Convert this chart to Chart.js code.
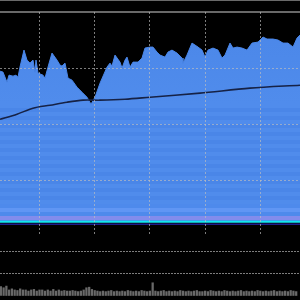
<!DOCTYPE html>
<html>
<head>
<meta charset="utf-8">
<script src="https://cdn.jsdelivr.net/npm/chart.js@4/dist/chart.umd.min.js"></script>
<style>
  html, body { margin: 0; padding: 0; background: #000; }
  canvas { display: block; }
</style>
</head>
<body>
<canvas id="price" width="300" height="237"></canvas>
<canvas id="volume" width="300" height="63"></canvas>
<script>
// price (sessions are trading days, 0 = first gridline)
const sessions = [-14.31, -13.22, -11.78, -11.05, -9.6, -8.51, -7.79, -7.07, -5.62, -4.53, -3.44, -2.36, -1.63, -1.27, -0.54,
  1.27, 1.99, 3.08, 4.53, 6.34, 7.43, 8.15, 9.24, 10.33, 11.78, 13.59, 15.4, 17.21, 18.66, 20.11, 21.92, 24.46, 25.54,
  26.27, 27.36, 29.17, 29.89, 30.98, 31.7, 32.79, 33.88, 35.69, 37.14, 38.22, 40.04, 41.12, 42.57, 43.66, 45.47, 46.56,
  48.01, 49.82, 51.63, 51.99, 53.44, 55.25, 56.34, 57.43, 58.88, 59.96, 61.05, 62.86, 64.67, 66.12, 67.21, 69.02, 70.11,
  71.56, 73.37, 75.18, 76.99, 79.17, 80.98, 82.43, 84.6, 86.41, 88.22, 90.04, 91.85, 93.3, 94.38];
const closes = [69.46, 69.29, 67.5, 68.75, 68.57, 68.75, 68.39, 70.18, 73.21, 71.43, 70.89, 71.43, 69.29, 71.43, 69.11,
  68.75, 68.21, 70.18, 72.68, 71.43, 70.54, 70.36, 70.89, 68.21, 67.86, 66.61, 65.71, 64.82, 63.57, 64.82, 67.32, 70.18, 70.89,
  70.36, 72.32, 71.07, 70.0, 71.43, 71.96, 70.18, 71.07, 71.07, 71.79, 73.57, 73.75, 73.75, 72.86, 72.32, 71.96, 72.86,
  73.21, 72.68, 71.79, 70.89, 72.32, 74.46, 74.11, 73.75, 73.21, 71.96, 73.21, 73.57, 73.21, 71.79, 72.32, 74.46, 73.57,
  73.75, 73.57, 73.21, 74.46, 74.64, 75.54, 75.18, 75.18, 75.0, 74.46, 74.46, 73.75, 75.36, 75.89];

// moving average
const maSessions = [-14.31, -8.15, -2.36, 3.8, 9.96, 15.76, 21.92, 30.98, 40.04, 58.15, 76.27, 94.38];
const maValues = [60.89, 61.79, 62.86, 63.39, 63.93, 64.29, 64.29, 64.46, 64.82, 65.54, 66.43, 66.96];

// baseline levels under the area
const baseLevel = 42.65;
const lowLevel = 42.2;

// volume, one bar per session from -14 to 93
const volFirst = -14;
const volumes = [0.85, 0.75, 0.9, 0.55, 0.65, 0.55, 0.5, 0.65, 0.55, 0.55, 0.45, 0.55, 0.6, 0.45, 0.55,
  0.55, 0.45, 0.55, 0.45, 0.6, 0.45, 0.55, 0.45, 0.5, 0.45,
  0.45, 0.5, 0.45, 0.4, 0.45, 0.55, 0.75, 0.8, 0.6, 0.5, 0.45,
  0.4, 0.45, 0.4, 0.45, 0.5, 0.4, 0.45, 0.4, 0.45, 0.4, 0.5, 0.45, 0.4, 0.45, 0.4, 0.5, 0.45, 0.4, 0.45,
  1.2,
  0.45, 0.4, 0.45, 0.5, 0.4, 0.45, 0.4, 0.45, 0.4, 0.5, 0.45, 0.4, 0.45, 0.4, 0.45, 0.5, 0.4,
  0.4, 0.45, 0.4, 0.5, 0.45, 0.4, 0.45, 0.4, 0.5, 0.45, 0.4, 0.45, 0.4, 0.45, 0.5, 0.4, 0.45, 0.4, 0.45, 0.4,
  0.5, 0.45, 0.4, 0.45, 0.4, 0.45, 0.5, 0.4, 0.45, 0.4, 0.45, 0.4, 0.5, 0.45, 0.4];

const xMin = -14.31, xMax = 94.38;
const FILL = "rgb(74,134,232)";
const FILL_LIGHT = "rgb(80,140,236)";
const GRID = "rgba(190,190,190,0.65)";
const FRAME = "rgb(105,105,105)";

const pts = (xs, ys) => xs.map((x, i) => ({ x: x, y: ys[i] }));

// faint horizontal banding in the lower part of the area
function stripedFill(context) {
    const chart = context.chart;
    const area = chart.chartArea;
    if (!area) return FILL;
    const g = chart.ctx.createLinearGradient(0, area.top, 0, area.bottom);
    const h = area.bottom - area.top;
    g.addColorStop(0, FILL);
    const step = 4;
    let k = 0;
    for (let y = 92; y < h; y += step, k++) {
        let c = k % 2 ? FILL : FILL_LIGHT;
        if (y > 188) c = k % 2 ? "rgb(78,138,236)" : "rgb(96,150,244)";
        if (y > 200 && y < 206) c = "rgb(130,140,236)";
        const t0 = y / h;
        const t1 = Math.min((y + step) / h, 1) - 0.0005;
        g.addColorStop(t0, c);
        g.addColorStop(Math.max(t0, t1), c);
    }
    return g;
}

new Chart(document.getElementById("price"), {
    type: "line",
    data: {
        datasets: [
            {
                data: pts(sessions, closes),
                borderColor: FILL,
                borderWidth: 1,
                backgroundColor: stripedFill,
                fill: { value: baseLevel },
                pointRadius: 0,
                tension: 0,
                order: 3,
            },
            {
                data: pts(maSessions, maValues),
                borderColor: "rgb(22,34,70)",
                borderWidth: 1.6,
                pointRadius: 0,
                tension: 0.3,
                fill: false,
                order: 0,
            },
            {
                data: [{ x: xMin, y: baseLevel }, { x: xMax, y: baseLevel }],
                borderColor: "rgb(20,230,240)",
                borderWidth: 2,
                pointRadius: 0,
                fill: false,
                order: 1,
            },
            {
                data: [{ x: xMin, y: lowLevel }, { x: xMax, y: lowLevel }],
                borderColor: "rgb(30,30,140)",
                borderWidth: 1.5,
                pointRadius: 0,
                fill: false,
                order: 2,
            },
        ],
    },
    options: {
        responsive: false,
        animation: false,
        devicePixelRatio: 1,
        layout: { padding: { top: 12, bottom: 0.5, left: 0, right: 0 } },
        plugins: { legend: { display: false }, tooltip: { enabled: false } },
        scales: {
            x: {
                type: "linear",
                min: xMin,
                max: xMax,
                ticks: { display: false, stepSize: 20, includeBounds: false },
                grid: { color: GRID, drawTicks: false, z: 1 },
                border: { display: true, color: FRAME, width: 2, dash: [2, 2] },
            },
            xTop: {
                type: "linear",
                position: "top",
                ticks: { display: false },
                grid: { display: false, drawTicks: false },
                border: { display: true, color: FRAME, width: 2 },
            },
            y: {
                min: 40,
                max: 80,
                ticks: { display: false, stepSize: 10, includeBounds: false },
                grid: {
                    color: (c) => (c.tick.value > 40 && c.tick.value < 80 ? GRID : "transparent"),
                    drawTicks: false,
                    z: 1,
                },
                border: { display: false, dash: [2, 2] },
            },
        },
    },
});

new Chart(document.getElementById("volume"), {
    type: "bar",
    data: {
        datasets: [
            {
                data: volumes.map((v, i) => ({ x: volFirst + i, y: v })),
                backgroundColor: "rgb(105,105,105)",
                barThickness: 1.6,
            },
        ],
    },
    options: {
        responsive: false,
        animation: false,
        devicePixelRatio: 1,
        layout: { padding: { top: 0, bottom: 4, left: 0, right: 0 } },
        plugins: { legend: { display: false }, tooltip: { enabled: false } },
        scales: {
            x: {
                type: "linear",
                display: false,
                offset: false,
                min: xMin,
                max: xMax,
            },
            y: {
                min: 0,
                max: 5.36,
                ticks: { display: false, stepSize: 2, includeBounds: false },
                grid: {
                    color: (c) => (c.tick.value > 0 ? "rgb(125,125,125)" : "transparent"),
                    drawTicks: false,
                },
                border: { display: false, dash: [2, 1] },
            },
        },
    },
});
</script>
</body>
</html>
